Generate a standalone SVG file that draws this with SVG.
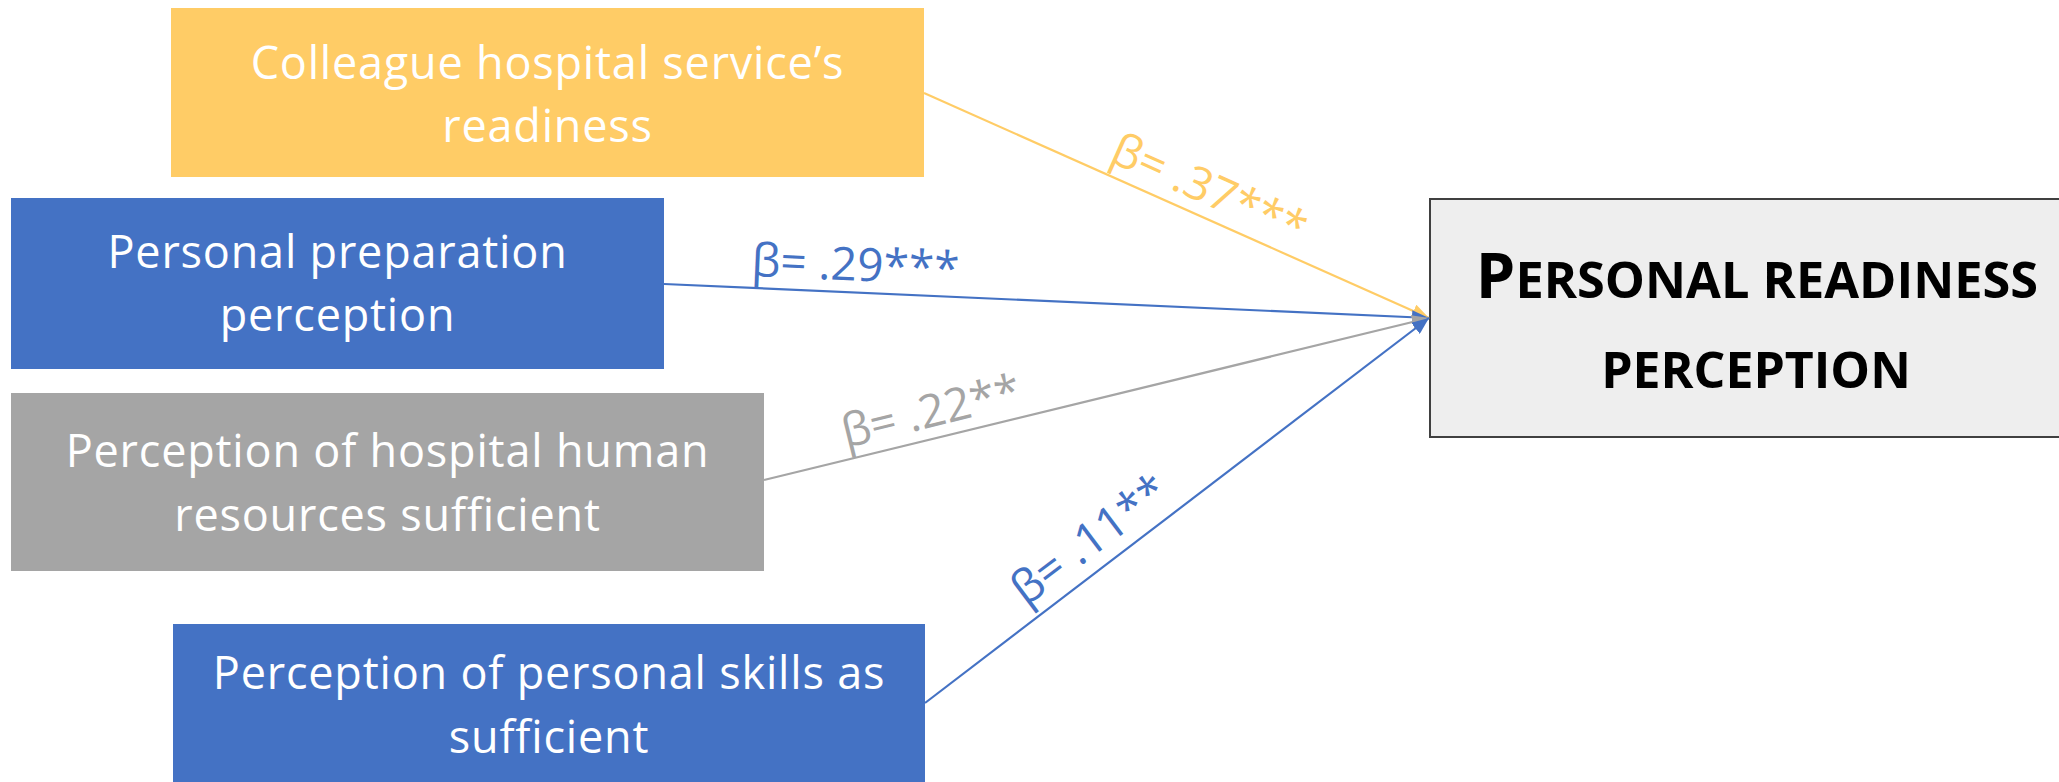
<svg xmlns="http://www.w3.org/2000/svg" width="2059" height="782" viewBox="0 0 2059 782">
<style>
.box{stroke:none}
.yel{fill:#FFCC66}
.blu{fill:#4472C4}
.gry{fill:#A5A5A5}
.nt{font-family:"Open Sans","Noto Sans",sans-serif;font-size:45px;letter-spacing:0.8px;fill:#ffffff;text-anchor:middle}
.lbl{font-family:"Open Sans","Noto Sans",sans-serif;font-size:46px}
.title{font-family:"Open Sans","Noto Sans",sans-serif;font-weight:bold;fill:#000000;text-anchor:middle}
.ln{fill:none;stroke-width:2.2}
</style>
<defs>
<marker id="aY" markerUnits="userSpaceOnUse" markerWidth="18" markerHeight="14" refX="17" refY="7" orient="auto"><path d="M0,0 L17,7 L0,14 Z" fill="#FFCC66"/></marker>
<marker id="aB" markerUnits="userSpaceOnUse" markerWidth="18" markerHeight="14" refX="17" refY="7" orient="auto"><path d="M0,0 L17,7 L0,14 Z" fill="#4472C4"/></marker>
<marker id="aG" markerUnits="userSpaceOnUse" markerWidth="18" markerHeight="14" refX="17" refY="7" orient="auto"><path d="M0,0 L17,7 L0,14 Z" fill="#A5A5A5"/></marker>
</defs>
<rect width="2059" height="782" fill="#ffffff"/>

<g id="node-colleague">
<rect class="box yel" x="171" y="8" width="753" height="169"/>
<text class="nt" x="547.5" y="79">Colleague hospital service’s</text>
<text class="nt" x="547.5" y="142">readiness</text>
</g>
<g id="node-personal-prep">
<rect class="box blu" x="11" y="198" width="653" height="171"/>
<text class="nt" x="337.5" y="268">Personal preparation</text>
<text class="nt" x="337.5" y="331">perception</text>
</g>
<g id="node-hospital-hr">
<rect class="box gry" x="11" y="393" width="753" height="178"/>
<text class="nt" x="387.5" y="467">Perception of hospital human</text>
<text class="nt" x="387.5" y="531">resources sufficient</text>
</g>
<g id="node-skills">
<rect class="box blu" x="173" y="624" width="752" height="158"/>
<text class="nt" x="549" y="689">Perception of personal skills as</text>
<text class="nt" x="549" y="753">sufficient</text>
</g>
<g id="node-target">
<rect x="1430" y="199" width="640" height="238" fill="#EEEEEE" stroke="#404040" stroke-width="2"/>
<text class="title" x="1757" y="298"><tspan font-size="63">P</tspan><tspan font-size="50.5">ERSONAL READINESS</tspan></text>
<text class="title" x="1756" y="388" font-size="50">PERCEPTION</text>
</g>

<g id="connectors">
<line class="ln" x1="924" y1="93" x2="1429" y2="318" stroke="#FFCC66" marker-end="url(#aY)"/>
<line class="ln" x1="664" y1="284" x2="1429" y2="318" stroke="#4472C4" stroke-width="2.6" marker-end="url(#aB)"/>
<line class="ln" x1="764" y1="480" x2="1429" y2="318" stroke="#A5A5A5" marker-end="url(#aG)"/>
<line class="ln" x1="925" y1="703" x2="1429" y2="318" stroke="#4472C4" marker-end="url(#aB)"/>
<text class="lbl" fill="#FFCC66" transform="translate(1108,161) rotate(24)">β= .37***</text>
<text class="lbl" fill="#4472C4" transform="translate(751,276) rotate(2.5)">β= .29***</text>
<text class="lbl" fill="#A5A5A5" transform="translate(846,448) rotate(-13.7)">β= .22**</text>
<text class="lbl" fill="#4472C4" transform="translate(1026,607) rotate(-37)">β= .11**</text>
</g>
</svg>
